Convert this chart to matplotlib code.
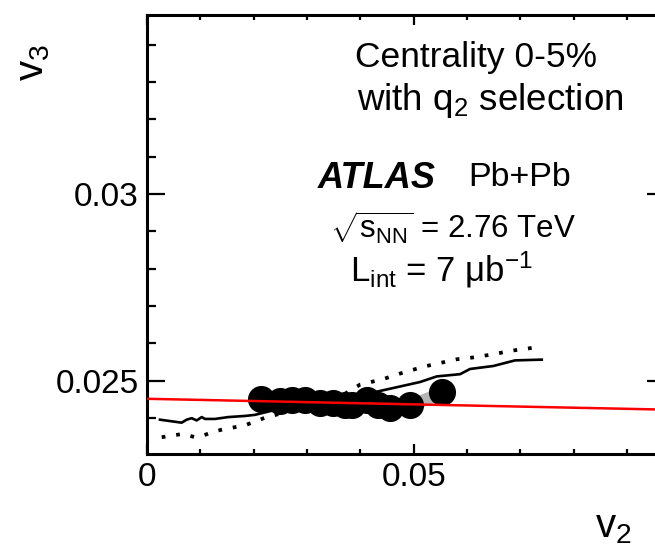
import matplotlib
matplotlib.use('Agg')
import matplotlib.pyplot as plt
from matplotlib.ticker import MultipleLocator, FuncFormatter
import numpy as np

plt.rcParams['font.family'] = ['Liberation Sans', 'DejaVu Sans']
plt.rcParams['mathtext.fontset'] = 'custom'
plt.rcParams['mathtext.rm'] = 'Liberation Sans'
plt.rcParams['mathtext.it'] = 'Liberation Sans:italic'
plt.rcParams['mathtext.bf'] = 'Liberation Sans:bold'

# q2-selected points
v2_pts = [0.0214, 0.0249, 0.0272, 0.0296, 0.0324, 0.0349, 0.0371, 0.0384,
          0.0413, 0.0433, 0.0456, 0.0493, 0.0553]
v3_pts = [0.02451, 0.02446, 0.02447, 0.02448, 0.02440, 0.02441, 0.02435, 0.02435,
          0.02448, 0.02435, 0.02425, 0.02434, 0.02468]
v3_sys = 0.00018

# solid curve
v2_solid = [0.00244, 0.0065, 0.00744, 0.00838, 0.00932, 0.01026, 0.01088, 0.01275,
            0.01524, 0.01838, 0.02025, 0.02338, 0.0362, 0.04181, 0.04618, 0.05119,
            0.05432, 0.05869, 0.06057, 0.06494, 0.069, 0.07401]
v3_solid = [0.02395, 0.02387, 0.02395, 0.02399, 0.02393, 0.02402, 0.02397, 0.02397,
            0.02402, 0.02405, 0.02408, 0.02419, 0.02457, 0.02466, 0.0248, 0.02496,
            0.02511, 0.02517, 0.02531, 0.02539, 0.02554, 0.02556]

# dotted curve
v2_dot = [0.00276, 0.00675, 0.009, 0.0105, 0.01238, 0.01463, 0.01838, 0.02244,
          0.02556, 0.03681, 0.03994, 0.04431, 0.04838, 0.05245, 0.05807, 0.06025,
          0.06432, 0.06838, 0.07244]
v3_dot = [0.02348, 0.02357, 0.02348, 0.02352, 0.02363, 0.0237, 0.0238, 0.02402,
          0.02413, 0.02462, 0.02489, 0.02504, 0.02523, 0.02539, 0.02557, 0.0256,
          0.02569, 0.0258, 0.02588]

# linear fit
fit_x = [0.0, 0.0971]
fit_y = [0.02451, 0.02422]

fig = plt.figure(figsize=(6.55, 5.46), dpi=100)
ax = fig.add_axes([0.2244, 0.1685, 0.7908, 0.804])

x = np.array(v2_pts)
y = np.array(v3_pts)
ax.fill_between(x, y - v3_sys, y + v3_sys, color='#b4b4b4', lw=0, zorder=1)
ax.plot(v2_solid, v3_solid, color='black', lw=1.9, zorder=2)
ax.plot(v2_dot, v3_dot, color='black', lw=2.7, dashes=(1.0, 2.9), zorder=2)
ax.plot(x, y, 'o', color='black', ms=18.5, zorder=3)
ax.plot(fit_x, fit_y, color='red', lw=1.8, zorder=4)

ax.set_xlim(0, 0.0971)
ax.set_ylim(0.02303, 0.0348)

ax.xaxis.set_major_locator(MultipleLocator(0.05))
ax.xaxis.set_minor_locator(MultipleLocator(0.01))
ax.yaxis.set_major_locator(MultipleLocator(0.005))
ax.yaxis.set_minor_locator(MultipleLocator(0.001))
fmt = FuncFormatter(lambda v, p: '%g' % round(v, 4))
ax.xaxis.set_major_formatter(fmt)
ax.yaxis.set_major_formatter(fmt)

ax.tick_params(axis='both', which='both', direction='in', top=True, right=True,
               labelsize=24, width=1.6)
ax.tick_params(axis='x', which='major', length=7.5, pad=6)
ax.tick_params(axis='x', which='minor', length=3.5)
ax.tick_params(axis='y', which='major', length=13, pad=6)
ax.tick_params(axis='y', which='minor', length=6.5)
for s in ax.spines.values():
    s.set_linewidth(2.2)

fig.text(613 / 655, 1 - 527 / 546, r'v$_2$', fontsize=29, ha='center', va='center')
fig.text(33 / 655, 1 - 63 / 546, r'v$_3$', fontsize=29, ha='center', va='center',
         rotation=90)

fig.text(476 / 655, 1 - 57 / 546, 'Centrality 0-5%', fontsize=25.5, ha='center', va='center')
fig.text(490 / 655, 1 - 100 / 546, r'with q$_2$ selection', fontsize=26.5, ha='center',
         va='center')
fig.text(318 / 655, 1 - 178 / 546, 'ATLAS', fontsize=26, fontweight='bold', style='italic',
         ha='left', va='center')
fig.text(468 / 655, 1 - 178 / 546, 'Pb+Pb', fontsize=24.5, ha='left', va='center')
fig.text(330 / 655, 1 - 228 / 546, r'$\sqrt{\mathrm{s}_{\mathrm{NN}}}$ = 2.76 TeV',
         fontsize=22.5, ha='left', va='center')
fig.text(350 / 655, 1 - 270 / 546, r'L$_{\mathrm{int}}$ = 7 μb$^{-1}$', fontsize=25,
         ha='left', va='center')

fig.savefig('out.png', dpi=100)
